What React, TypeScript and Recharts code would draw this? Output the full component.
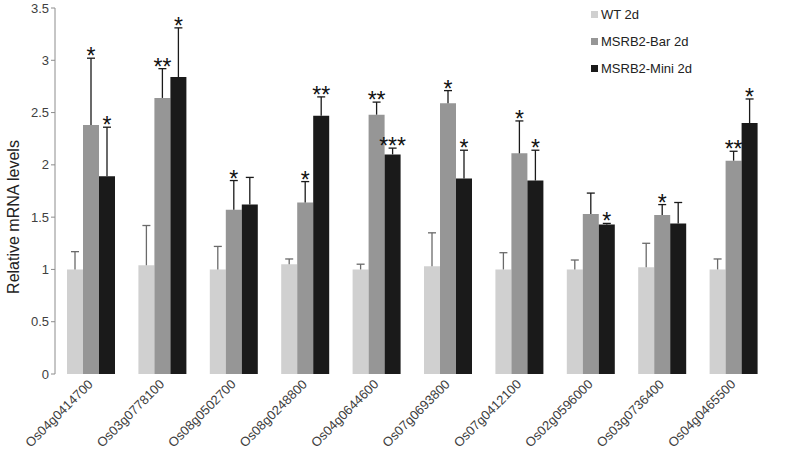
import { BarChart, Bar, XAxis, YAxis, Legend, LabelList } from 'recharts'

const genes = [
  'Os04g0414700', 'Os03g0778100', 'Os08g0502700', 'Os08g0248800', 'Os04g0644600',
  'Os07g0693800', 'Os07g0412100', 'Os02g0596000', 'Os03g0736400', 'Os04g0465500',
]
const wtMean = [1.0, 1.04, 1.0, 1.05, 1.0, 1.03, 1.0, 1.0, 1.02, 1.0]
const barMean = [2.38, 2.64, 1.57, 1.64, 2.48, 2.59, 2.11, 1.53, 1.52, 2.04]
const miniMean = [1.89, 2.84, 1.62, 2.47, 2.1, 1.87, 1.85, 1.43, 1.44, 2.4]
const wtErr = [0.17, 0.38, 0.22, 0.05, 0.05, 0.32, 0.16, 0.09, 0.23, 0.1]
const barErr = [0.64, 0.28, 0.28, 0.2, 0.12, 0.12, 0.31, 0.2, 0.1, 0.09]
const miniErr = [0.47, 0.47, 0.26, 0.18, 0.06, 0.27, 0.29, 0.01, 0.2, 0.23]
const barStars = ['*', '**', '*', '*', '**', '*', '*', '', '*', '**']
const miniStars = ['*', '*', '', '**', '***', '*', '*', '*', '', '*']
const yTicks = [0, 0.5, 1, 1.5, 2, 2.5, 3, 3.5]
const boundaryTicks = [0, 1, 2, 3, 4, 5, 6, 7, 8, 9, 10]

const series = [
  { key: 'wt', name: 'WT 2d', color: '#d0d0d0', errColor: '#6a6a6a' },
  { key: 'bar', name: 'MSRB2-Bar 2d', color: '#969696', errColor: '#1a1a1a' },
  { key: 'mini', name: 'MSRB2-Mini 2d', color: '#1a1a1a', errColor: '#1a1a1a' },
]

const data = genes.map((g, i) => ({ gene: g, wt: wtMean[i], bar: barMean[i], mini: miniMean[i] }))

const FONT = '"Liberation Sans", Arial, sans-serif'

// error bar (upper half only) + significance stars, drawn from the bar's own geometry
function makeErr(errs: number[], stars: string[] | null, color: string) {
  return (p: any) => {
    const vb = p.viewBox || {}
    const x = p.x ?? vb.x
    const y = p.y ?? vb.y
    const w = p.width ?? vb.width
    const h = p.height ?? vb.height
    const v = Number(p.value)
    const i = p.index
    if (!v || i == null) return null
    const cx = x + w / 2
    const top = y - (errs[i] * h) / v
    const s = stars ? stars[i] : ''
    return (
      <g key={`e-${i}`}>
        <line x1={cx} y1={y} x2={cx} y2={top} stroke={color} strokeWidth={1.3} />
        <line x1={cx - 4} y1={top} x2={cx + 4} y2={top} stroke={color} strokeWidth={1.3} />
        {s && (
          <text x={cx} y={top + 6} textAnchor="middle" fontSize={23} fill="#111" fontFamily={FONT}>
            {s}
          </text>
        )}
      </g>
    )
  }
}

const GeneTick = (p: any) => (
  <text
    x={p.x + 3}
    y={p.y + 3}
    textAnchor="end"
    fontSize={13}
    fill="#404040"
    fontFamily={FONT}
    transform={`rotate(-45 ${p.x + 3} ${p.y + 3})`}
  >
    {p.payload.value}
  </text>
)

const EmptyTick = () => <g />

const LegendBox = () => (
  <div style={{ fontFamily: FONT, fontSize: 13, color: '#222' }}>
    {series.map((s) => (
      <div key={s.key} style={{ display: 'flex', alignItems: 'center', height: 27 }}>
        <span style={{ width: 7, height: 7, background: s.color, marginRight: 3, display: 'inline-block' }} />
        {s.name}
      </div>
    ))}
  </div>
)

const YTitle = (p: any) => {
  const vb = p.viewBox
  const cy = vb.y + vb.height / 2 + 26
  return (
    <text x={13} y={cy} transform={`rotate(-90 13 ${cy})`} textAnchor="middle" dominantBaseline="central" fontSize={16} fill="#222" fontFamily={FONT}>
      Relative mRNA levels
    </text>
  )
}

export default function App() {
  return (
    <div style={{ position: 'absolute', left: 0, top: 0, width: 789, height: 452, background: '#fff' }}>
      <BarChart
        width={789}
        height={452}
        data={data}
        margin={{ top: 8, right: 20, left: 0, bottom: 0 }}
        barCategoryGap={11}
        barGap={0}
      >
        <XAxis
          xAxisId="num"
          type="number"
          domain={[0, 10]}
          ticks={boundaryTicks}
          height={0}
          tick={<EmptyTick />}
          tickSize={4}
          axisLine={{ stroke: '#8c8c8c' }}
          tickLine={{ stroke: '#8c8c8c' }}
        />
        <XAxis
          xAxisId="cat"
          dataKey="gene"
          height={78}
          interval={0}
          axisLine={false}
          tickLine={false}
          tick={<GeneTick />}
        />
        <YAxis
          width={55}
          domain={[0, 3.5]}
          ticks={yTicks}
          tickSize={4}
          tick={{ fontSize: 13, fill: '#404040', fontFamily: FONT }}
          axisLine={{ stroke: '#8c8c8c' }}
          tickLine={{ stroke: '#8c8c8c' }}
          label={<YTitle />}
        />
        <Legend
          layout="vertical"
          verticalAlign="middle"
          align="center"
          content={<LegendBox />}
          wrapperStyle={{ left: 591, top: 1, width: 190 }}
        />
        <Bar xAxisId="cat" dataKey="wt" name="WT 2d" fill={series[0].color} barSize={16} isAnimationActive={false}>
          <LabelList dataKey="wt" content={makeErr(wtErr, null, series[0].errColor)} />
        </Bar>
        <Bar xAxisId="cat" dataKey="bar" name="MSRB2-Bar 2d" fill={series[1].color} barSize={16} isAnimationActive={false}>
          <LabelList dataKey="bar" content={makeErr(barErr, barStars, series[1].errColor)} />
        </Bar>
        <Bar xAxisId="cat" dataKey="mini" name="MSRB2-Mini 2d" fill={series[2].color} barSize={16} isAnimationActive={false}>
          <LabelList dataKey="mini" content={makeErr(miniErr, miniStars, series[2].errColor)} />
        </Bar>
      </BarChart>
    </div>
  )
}
